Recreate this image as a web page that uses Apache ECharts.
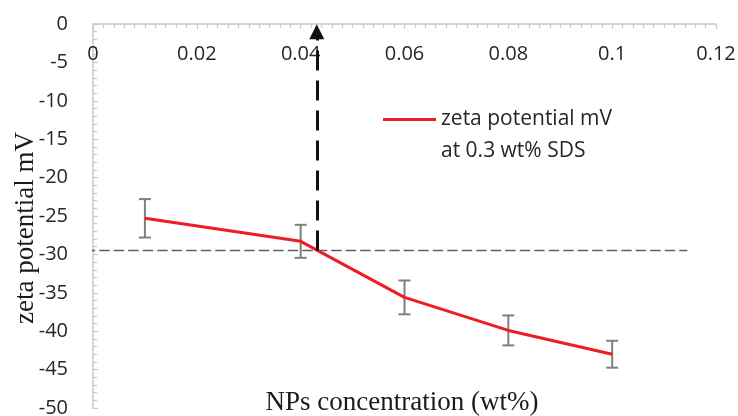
<!DOCTYPE html>
<html>
<head>
<meta charset="utf-8">
<script src="https://cdn.jsdelivr.net/npm/echarts@6/dist/echarts.min.js"></script>
<style>html,body{margin:0;padding:0;background:#fff;}#c{width:738px;height:416px;}</style>
</head>
<body>
<div id="c"></div>
<script>
// ---- data ----
const concentration = [0.01, 0.04, 0.06, 0.08, 0.1];          // NPs concentration (wt%)
const zetaPotential = [-25.3, -28.3, -35.6, -39.9, -43.0];    // mV
const errorBar = [2.5, 2.15, 2.2, 1.95, 1.75];                 // +/- mV
const refLevel = -29.5;                                        // horizontal reference (mV)
const refConcentration = 0.0431;                               // vertical arrow position (wt%)
const arrowEnd = -1;                                           // centre of arrow head (mV)
const refLineSpan = [-0.0016, 0.1145];                         // extent of horizontal dashed line
const xTicks = { min: 0, max: 0.12, interval: 0.02 };
const yTicks = { min: -50, max: 0, interval: 5 };
const seriesName = 'zeta potential mV';
const seriesName2 = 'at 0.3 wt% SDS';

const chart = echarts.init(document.getElementById('c'), null, { renderer: 'canvas' });

const labelFont = { fontFamily: 'Open Sans', fontSize: 20, color: '#262626' };
const legendFont = { fontFamily: 'Open Sans', fontSize: 21, color: '#262626' };
const serifFont = { fontFamily: 'Liberation Serif', fontSize: 27, color: '#1a1a1a', fontWeight: 'normal' };

const option = {
  animation: false,
  backgroundColor: '#fff',
  grid: { left: 93, right: 22, top: 24, bottom: 8, containLabel: false, outerBoundsMode: 'none' },
  title: {
    text: 'NPs concentration (wt%)',
    left: 402, top: 389, textAlign: 'center', padding: 0,
    textStyle: serifFont
  },
  legend: {
    orient: 'vertical', left: 383, top: 109, padding: 0,
    itemWidth: 53, itemHeight: 3, itemGap: 11,
    selectedMode: false,
    textStyle: legendFont,
    data: [{ name: seriesName, icon: 'rect' }, { name: seriesName2, icon: 'rect' }]
  },
  xAxis: {
    type: 'value', position: 'top',
    min: xTicks.min, max: xTicks.max, interval: xTicks.interval,
    axisLine: { show: true, onZero: false, lineStyle: { color: '#c8c8c8', width: 1.5 } },
    axisTick: { show: true, inside: true, length: 5, lineStyle: { color: '#c8c8c8', width: 1.2 } },
    minorTick: { show: true, splitNumber: 10, length: 4, lineStyle: { color: '#c8c8c8', width: 1.2 } },
    splitLine: { show: false },
    axisLabel: Object.assign({ inside: true, margin: 20, showMaxLabel: true }, labelFont)
  },
  yAxis: {
    type: 'value',
    min: yTicks.min, max: yTicks.max, interval: yTicks.interval,
    name: 'zeta potential mV', nameLocation: 'middle', nameGap: 54, nameMoveOverlap: false,
    nameTextStyle: Object.assign({ padding: [0, 24, 0, 0] }, serifFont),
    axisLine: { show: true, onZero: false, lineStyle: { color: '#c8c8c8', width: 1.5 } },
    axisTick: { show: true, inside: true, length: 5, lineStyle: { color: '#c8c8c8', width: 1.2 } },
    minorTick: { show: true, splitNumber: 5, length: 4, lineStyle: { color: '#c8c8c8', width: 1.2 } },
    splitLine: { show: false },
    axisLabel: Object.assign({ margin: 25 }, labelFont)
  },
  series: [
    {
      name: 'reference level',
      type: 'line',
      clip: false,
      symbol: 'none',
      silent: true,
      z: 1,
      data: refLineSpan.map(x => [x, refLevel]),
      lineStyle: { color: '#606060', width: 1.6, type: [10.5, 4] }
    },
    {
      name: 'error bars',
      type: 'custom',
      z: 2,
      data: concentration.map((x, i) => [x, zetaPotential[i] - errorBar[i], zetaPotential[i] + errorBar[i]]),
      renderItem: function (params, api) {
        const x = api.value(0);
        const lo = api.coord([x, api.value(1)]);
        const hi = api.coord([x, api.value(2)]);
        const cap = 6;
        const style = { stroke: '#7f7f7f', lineWidth: 2, fill: null };
        return {
          type: 'group',
          children: [
            { type: 'line', shape: { x1: lo[0], y1: lo[1], x2: hi[0], y2: hi[1] }, style },
            { type: 'line', shape: { x1: lo[0] - cap, y1: lo[1], x2: lo[0] + cap, y2: lo[1] }, style },
            { type: 'line', shape: { x1: hi[0] - cap, y1: hi[1], x2: hi[0] + cap, y2: hi[1] }, style }
          ]
        };
      }
    },
    {
      name: seriesName,
      type: 'line',
      z: 3,
      symbol: 'none',
      smooth: false,
      color: '#ee1c24',
      lineStyle: { color: '#ee1c24', width: 3 },
      data: concentration.map((x, i) => [x, zetaPotential[i]]),
      markLine: {
        silent: true,
        symbol: ['none', 'triangle'],
        symbolSize: [15, 15],
        label: { show: false },
        lineStyle: { color: '#111', width: 3, type: [20, 10] },
        data: [[{ coord: [refConcentration, refLevel] }, { coord: [refConcentration, arrowEnd] }]]
      }
    },
    {
      name: seriesName2,
      type: 'line',
      symbol: 'none',
      color: 'rgba(0,0,0,0)',
      data: []
    }
  ]
};
chart.setOption(option);
</script>
</body>
</html>
